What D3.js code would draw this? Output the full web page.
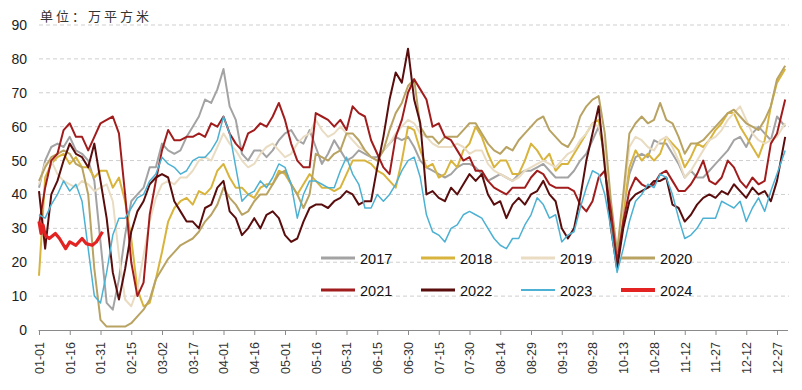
<!DOCTYPE html>
<html><head><meta charset="utf-8">
<script src="https://cdn.jsdelivr.net/npm/d3@7"></script>
<style>body{margin:0;background:#fff}svg{display:block}</style>
</head><body><div id="chart"></div>
<script>
// Day offset from 01-01 for each sample
const days = [0,3,6,9,12,15,18,21,24,27,30,33,36,39,42,45,48,51,54,57,60,63,66,69,72,75,78,81,84,87,90,93,96,99,102,105,108,111,114,117,120,123,126,129,132,135,138,141,144,147,150,153,156,159,162,165,168,171,174,177,180,183,186,189,192,195,198,201,204,207,210,213,216,219,222,225,228,231,234,237,240,243,246,249,252,255,258,261,264,267,270,273,276,279,282,285,288,291,294,297,300,303,306,309,312,315,318,321,324,327,330,333,336,339,342,345,348,351,354,357,360,364];

const y2017 = [42,50,54,55,54,57,53,52,50,44, 26,8,6,15,28,38,40,42,48,48, 55,53,52,53,57,60,63,68,67,71, 77,66,62,52,50,53,53,51,53,56, 58,59,56,55,59,54,49,52,56,53, 50,51,53,52,51,51,53,55,57,56, 57,54,50,48,47,46,45,46,48,49, 49,48,46,44,45,46,45,44,46,47, 47,48,49,47,45,45,45,47,50,52, 56,60,52,35,22,35,46,51,52,51, 56,55,55,52,49,45,47,45,45,47, 49,51,53,56,57,54,58,60,58,56, 63,60];
const y2018 = [16,45,49,51,52,49,51,48,48,45, 47,47,42,45,38,27,12,7,8,15, 23,32,36,38,39,37,41,40,42,47, 49,45,42,42,40,39,42,43,43,47, 46,43,40,43,46,44,42,42,41,42, 46,50,50,50,49,47,46,44,42,50, 60,59,53,48,49,45,46,50,48,53, 55,60,57,52,48,50,50,46,46,50, 55,53,50,52,47,49,49,52,55,58, 61,62,50,32,22,35,48,53,50,52, 50,52,57,55,53,48,51,55,54,56, 59,61,64,64,60,57,54,51,56,66, 73,77];
const y2019 = [43,49,50,46,44,43,42,44,43,41, 42,43,38,22,9,7,12,22,32,39, 43,44,43,45,45,47,50,51,50,54, 58,55,53,50,48,49,52,54,55,53, 51,52,55,57,58,62,59,57,58,60, 58,56,54,53,51,50,53,55,58,60, 62,61,58,57,55,54,54,54,55,54, 52,53,53,49,47,46,45,44,45,47, 48,49,50,49,48,50,52,53,56,58, 61,60,55,35,22,38,54,57,56,54, 53,56,57,54,50,45,47,50,53,56, 57,59,62,64,66,62,58,56,55,56, 57,61];
const y2020 = [44,48,51,52,53,52,49,48,40,18, 3,1,1,1,1,2,4,6,9,15, 18,21,23,25,26,27,29,32,34,37, 42,39,37,34,35,38,40,40,43,46, 47,43,40,36,40,52,51,50,52,53, 58,58,56,53,51,50,53,59,64,67, 72,74,60,57,57,55,57,57,57,59, 61,61,58,55,53,52,54,53,56,58, 60,62,63,59,57,55,54,57,63,66, 68,69,58,38,23,40,58,61,63,61, 62,67,62,61,57,52,55,55,56,58, 60,62,64,65,63,61,60,59,62,66, 74,78];
const y2021 = [31,42,50,52,59,61,57,57,53,57, 61,62,63,58,40,20,10,14,34,44, 53,59,56,56,57,57,58,57,61,60, 63,58,55,53,58,59,61,60,63,67, 62,55,50,48,48,64,63,62,60,62, 59,66,64,63,56,52,48,46,57,62, 70,74,71,68,60,61,57,56,53,50, 51,47,47,44,42,41,40,42,42,42, 45,47,46,43,42,42,42,41,37,35, 38,45,47,35,20,32,41,45,43,42, 43,46,47,44,41,41,43,46,50,44, 43,45,50,48,44,42,45,43,44,55, 58,68];
const y2022 = [41,24,40,44,50,55,52,51,48,55, 44,33,17,9,18,29,35,38,43,45, 46,45,38,35,32,32,30,36,37,42, 44,35,33,28,30,33,30,34,35,33, 28,26,27,32,36,37,37,36,38,39, 41,40,37,38,38,48,57,68,76,73, 83,68,61,40,41,39,38,42,40,43, 46,44,46,40,37,38,33,37,39,37, 40,41,44,40,38,30,27,30,39,50, 58,66,48,30,18,30,38,40,41,42, 44,44,45,37,36,32,34,37,39,40, 39,41,40,43,41,39,42,40,41,38, 44,57];
const y2023 = [34,33,37,40,44,41,43,38,24,10, 8,17,28,33,33,36,39,40,44,46, 51,49,48,46,47,50,51,51,53,56, 63,58,48,38,40,41,44,42,45,49, 48,43,33,40,44,44,43,42,42,47, 51,46,43,36,36,40,38,40,43,47, 50,51,45,34,29,28,26,30,31,34, 35,34,33,30,27,25,24,27,27,31, 34,39,37,33,34,26,28,29,36,42, 47,46,40,30,17,24,32,38,40,43, 42,46,45,40,33,27,28,30,33,33, 33,38,37,36,38,32,36,39,35,41, 46,53];
const days2024 = [0,1,2,3,5,8,10,13,15,18,21,23,26,28,31];
const y2024 = [32,28.5,31,28,27,28.5,27,24,26,25,27,25.5,25,26,29];

const years = ["2017","2018","2019","2020","2021","2022","2023","2024"];
const colors = ["#a3a3a3","#d8b43c","#e9dcc2","#b9a363","#a11d1d","#5a0d0d","#4cb1d2","#e32222"];
const tickDays = [0,15,30,45,60,75,90,105,120,135,150,165,180,195,210,225,240,255,270,285,300,315,330,345,360];
const tickLabels = ["01-01","01-16","01-31","02-15","03-02","03-17","04-01","04-16","05-01","05-16","05-31","06-15","06-30","07-15","07-30","08-14","08-29","09-13","09-28","10-13","10-28","11-12","11-27","12-12","12-27"];
const yTicks = [0,10,20,30,40,50,60,70,80,90];

const W = 802, H = 390;
const svg = d3.select("#chart").append("svg").attr("width", W).attr("height", H);
const x = d3.scaleLinear().domain([0,365]).range([39,787.25]);
const y = d3.scaleLinear().domain([0,90]).range([330,25]);

// title
svg.append("text").attr("x",40).attr("y",21)
  .attr("font-family","'Noto Sans CJK SC', sans-serif").attr("font-size",13)
  .attr("letter-spacing","3px").attr("fill","#333").text("单位：万平方米");

// gridlines
svg.append("g").selectAll("line").data(yTicks.filter(v=>v>0)).join("line")
  .attr("x1",39).attr("x2",789).attr("y1",d=>y(d)).attr("y2",d=>y(d))
  .attr("stroke","#cfcfcf").attr("stroke-width",1).attr("stroke-dasharray","4,3");

// y axis labels
const yAxis = d3.axisLeft(y).tickValues(yTicks).tickSize(0).tickPadding(0);
const gy = svg.append("g").attr("transform","translate(27,0)").call(yAxis);
gy.select(".domain").remove();
gy.selectAll("text").attr("font-family","'Liberation Sans', Arial, sans-serif").attr("font-size",14).attr("fill","#222");

// x axis
const xAxis = d3.axisBottom(x).tickValues(tickDays).tickFormat((d,i)=>tickLabels[i]).tickSize(5).tickSizeOuter(0);
const gx = svg.append("g").attr("transform","translate(0,330)").call(xAxis);
gx.select(".domain").attr("d","M38.5,0.5H788").attr("stroke","#8a8a8a");
gx.selectAll(".tick line").attr("stroke","#8a8a8a");
gx.selectAll("text").attr("font-family","'Liberation Sans', Arial, sans-serif").attr("font-size",12.5).attr("fill","#333")
  .attr("transform","rotate(-90)").attr("text-anchor","end").attr("x",-12).attr("y",0).attr("dy","0.35em");

// lines
const series = [y2017,y2018,y2019,y2020,y2021,y2022,y2023];
const line = d3.line().x(d=>x(d[0])).y(d=>y(d[1]));
const widths = [2,2,2,2,2,2,1.5,3.2];
series.forEach((vals,i)=>{
  svg.append("path").datum(days.map((d,j)=>[d,vals[j]]))
    .attr("d",line).attr("fill","none").attr("stroke",colors[i]).attr("stroke-width",widths[i])
    .attr("stroke-linejoin","round");
});
svg.append("path").datum(days2024.map((d,j)=>[d,y2024[j]]))
  .attr("d",line).attr("fill","none").attr("stroke",colors[7]).attr("stroke-width",widths[7])
  .attr("stroke-linejoin","round");

// legend
const legend = svg.append("g");
years.forEach((yr,i)=>{
  const col = i%4, row = Math.floor(i/4);
  const lx = 321 + col*100, ly = 258 + row*32;
  legend.append("line").attr("x1",lx).attr("x2",lx+34).attr("y1",ly).attr("y2",ly)
    .attr("stroke",colors[i]).attr("stroke-width", i===7?4:(i===6?2:3));
  legend.append("text").attr("x",lx+39).attr("y",ly+5.5)
    .attr("font-family","'Liberation Sans', Arial, sans-serif").attr("font-size",14.5).attr("fill","#111").text(yr);
});
</script></body></html>
